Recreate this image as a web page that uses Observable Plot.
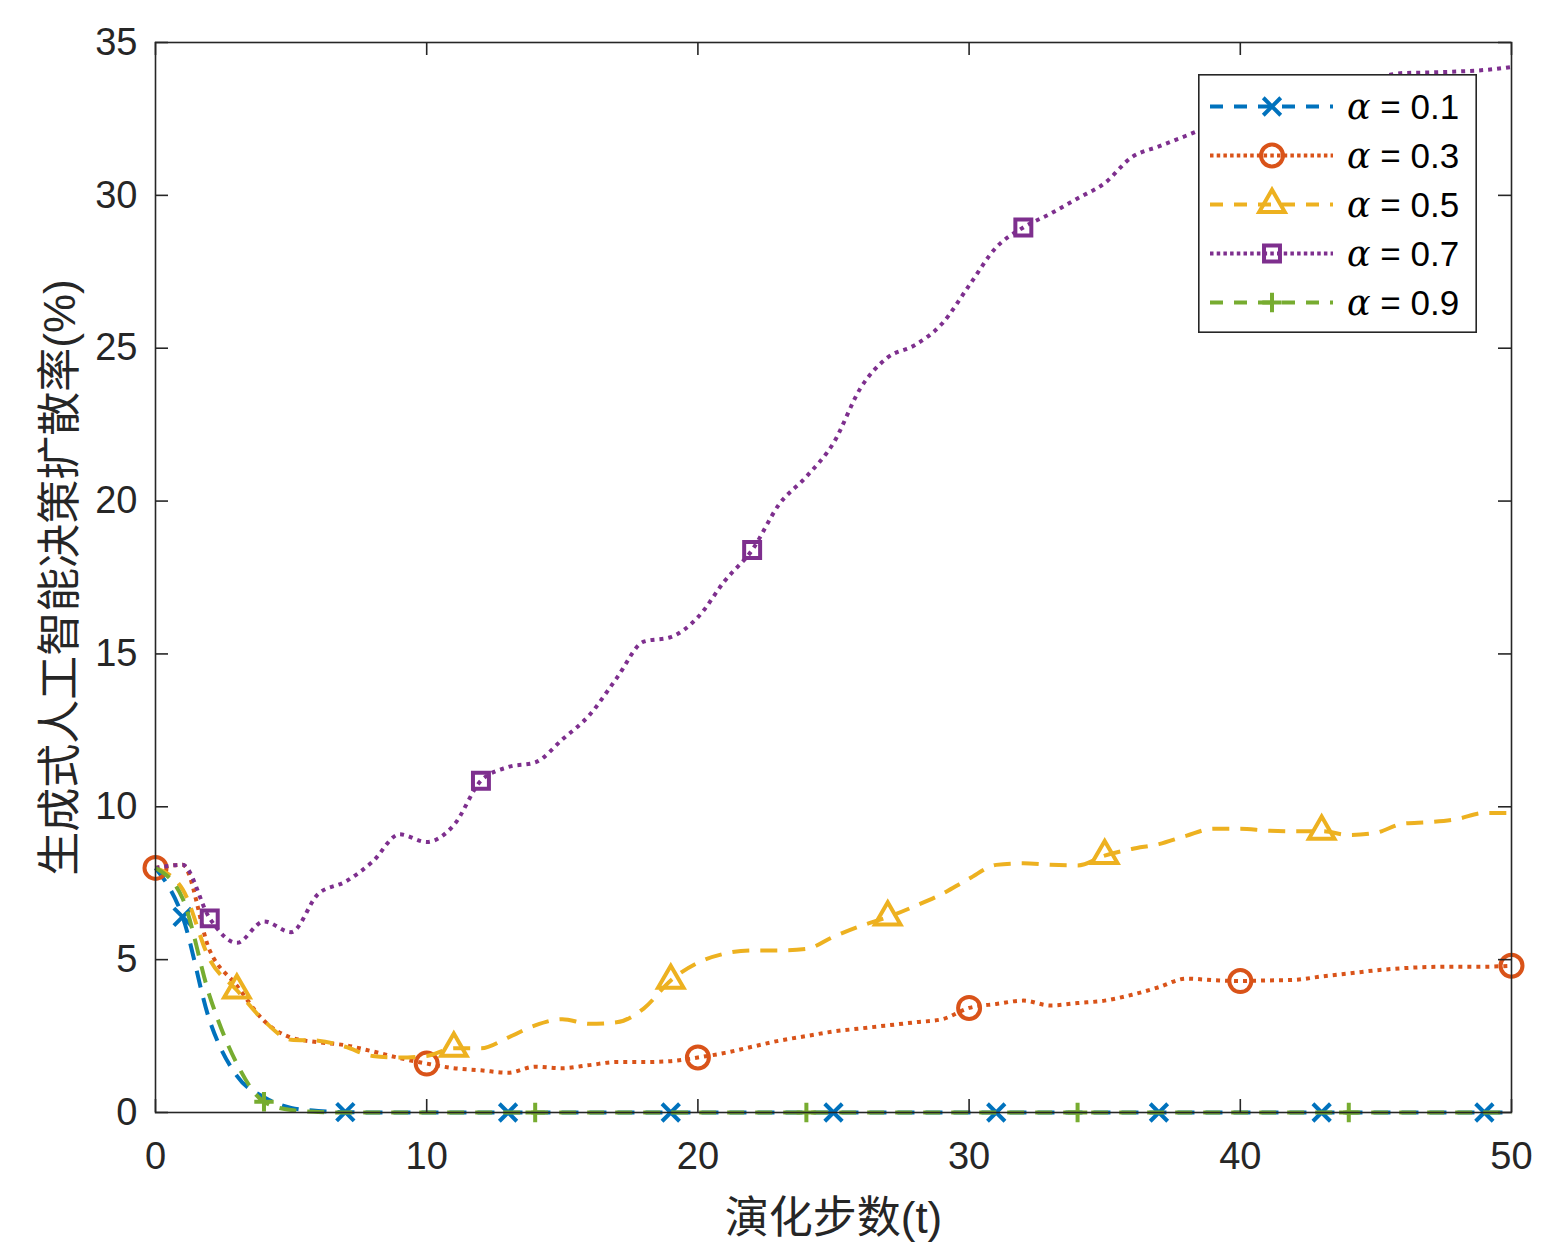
<!DOCTYPE html>
<html><head><meta charset="utf-8">
<script src="https://cdn.jsdelivr.net/npm/d3@7"></script>
<script src="https://cdn.jsdelivr.net/npm/@observablehq/plot@0.6"></script>
<style>
body{margin:0;background:#fff;}
#wrap{position:relative;width:1548px;height:1257px;background:#fff;}
#legend{position:absolute;left:1198px;top:74px;}
</style></head><body><div id="wrap"></div>
<script>
const steps = d3.range(0, 51);
const xTicks = [0, 10, 20, 30, 40, 50];
const yTicks = [0, 5, 10, 15, 20, 25, 30, 35];
const xLabel = "演化步数(t)";
const yLabel = "生成式人工智能决策扩散率(%)";
const seriesLabels = ["0.1", "0.3", "0.5", "0.7", "0.9"];

const alpha01 = [8.0, 6.4, 3.0, 1.2, 0.5, 0.15, 0.05, 0.01, 0, 0,
  0, 0, 0, 0, 0, 0, 0, 0, 0, 0,
  0, 0, 0, 0, 0, 0, 0, 0, 0, 0,
  0, 0, 0, 0, 0, 0, 0, 0, 0, 0,
  0, 0, 0, 0, 0, 0, 0, 0, 0, 0, 0];
const alpha03 = [8.0, 8.1, 5.3, 4.15, 3.0, 2.45, 2.3, 2.2, 2.0, 1.78,
  1.6, 1.45, 1.38, 1.3, 1.5, 1.45, 1.55, 1.65, 1.65, 1.68,
  1.8, 1.95, 2.15, 2.35, 2.5, 2.65, 2.75, 2.85, 2.95, 3.05,
  3.42, 3.55, 3.66, 3.5, 3.58, 3.66, 3.85, 4.1, 4.38, 4.33,
  4.3, 4.32, 4.34, 4.45, 4.55, 4.65, 4.72, 4.76, 4.77, 4.77, 4.8];
const alpha05 = [8.0, 7.3, 5.0, 4.0, 3.0, 2.38, 2.35, 2.15, 1.85, 1.8,
  1.85, 2.1, 2.1, 2.45, 2.85, 3.05, 2.9, 2.95, 3.4, 4.32,
  4.9, 5.2, 5.3, 5.3, 5.35, 5.75, 6.1, 6.39, 6.75, 7.15,
  7.65, 8.1, 8.15, 8.1, 8.08, 8.4, 8.62, 8.78, 9.05, 9.28,
  9.28, 9.22, 9.2, 9.2, 9.08, 9.15, 9.45, 9.5, 9.6, 9.8, 9.8];
const alpha07 = [8.0, 8.1, 6.35, 5.55, 6.25, 5.9, 7.15, 7.55, 8.2, 9.1,
  8.85, 9.4, 10.85, 11.3, 11.45, 12.2, 13.0, 14.2, 15.4, 15.55,
  16.2, 17.4, 18.4, 19.9, 20.8, 21.9, 23.7, 24.7, 25.1, 25.8,
  27.05, 28.3, 28.95, 29.4, 29.9, 30.4, 31.25, 31.6, 31.95, 32.3,
  32.6, 32.9, 33.2, 33.45, 33.65, 33.85, 34.0, 34.02, 34.05, 34.1, 34.2];
const alpha09 = [8.0, 7.0, 3.8, 1.6, 0.35, 0.08, 0.02, 0, 0, 0,
  0, 0, 0, 0, 0, 0, 0, 0, 0, 0,
  0, 0, 0, 0, 0, 0, 0, 0, 0, 0,
  0, 0, 0, 0, 0, 0, 0, 0, 0, 0,
  0, 0, 0, 0, 0, 0, 0, 0, 0, 0, 0];

const markers01 = [1, 7, 13, 19, 25, 31, 37, 43, 49];
const markers03 = [0, 10, 20, 30, 40, 50];
const markers05 = [3, 11, 19, 27, 35, 43];
const markers07 = [2, 12, 22, 32, 42];
const markers09 = [4, 14, 24, 34, 44];

const DASH = "17,11", DOT = "4,5";
const series = [
  {label: seriesLabels[0], values: alpha01, markers: markers01, color: "#0072BD", dash: DASH, symbol: "times", r: 8},
  {label: seriesLabels[1], values: alpha03, markers: markers03, color: "#D95319", dash: DOT, symbol: "circle", r: 11},
  {label: seriesLabels[2], values: alpha05, markers: markers05, color: "#EDB120", dash: DASH, symbol: "triangle", r: 9.5},
  {label: seriesLabels[3], values: alpha07, markers: markers07, color: "#7E2F8E", dash: DOT, symbol: "square", r: 9},
  {label: seriesLabels[4], values: alpha09, markers: markers09, color: "#77AC30", dash: DASH, symbol: "plus", r: 6.3}
];

const W = 1548, H = 1257, ML = 155, MR = 37, MT = 42, MB = 145;
const FW = W - ML - MR, FH = H - MT - MB, TL = 13;
const axisColor = "#262626";

const marks = [];
for (const s of series) {
  marks.push(Plot.line(steps, {x: d => d, y: d => s.values[d], stroke: s.color, strokeWidth: 4,
    strokeDasharray: s.dash, strokeLinecap: "butt", curve: "monotone-x"}));
  marks.push(Plot.dot(s.markers, {x: d => d, y: d => s.values[d], symbol: s.symbol, r: s.r,
    stroke: s.color, strokeWidth: 4, fill: "none"}));
}

const chart = Plot.plot({
  width: W, height: H,
  marginLeft: ML, marginRight: MR, marginTop: MT, marginBottom: MB,
  style: {fontFamily: "'Liberation Sans', Arial, sans-serif", background: "#fff", color: axisColor},
  x: {domain: [0, 50]},
  y: {domain: [0, 35]},
  marks: [
    ...marks,
    Plot.frame({stroke: axisColor, strokeWidth: 1.6}),
    Plot.tickX(xTicks, {x: d => d, insetTop: FH - TL, stroke: axisColor, strokeWidth: 1.6}),
    Plot.tickX(xTicks, {x: d => d, insetBottom: FH - TL, stroke: axisColor, strokeWidth: 1.6}),
    Plot.tickY(yTicks, {y: d => d, insetRight: FW - TL, stroke: axisColor, strokeWidth: 1.6}),
    Plot.tickY(yTicks, {y: d => d, insetLeft: FW - TL, stroke: axisColor, strokeWidth: 1.6}),
    Plot.axisX({ticks: xTicks, tickSize: 0, tickPadding: 30, fontSize: 38, label: null, fill: axisColor}),
    Plot.axisY({ticks: yTicks, tickSize: 0, tickPadding: 18, fontSize: 38, label: null, fill: axisColor}),
    Plot.text([xLabel], {text: d => d, frameAnchor: "bottom", dy: 106, fontSize: 44, fill: axisColor,
      textAnchor: "middle", lineAnchor: "middle",
      fontFamily: "'Liberation Sans','Noto Sans CJK SC',sans-serif"}),
    Plot.text([yLabel], {text: d => d, frameAnchor: "left", dx: -95, rotate: -90, fontSize: 44, fill: axisColor,
      textAnchor: "middle", lineAnchor: "middle",
      fontFamily: "'Liberation Sans','Noto Sans CJK SC',sans-serif"})
  ]
});
document.getElementById("wrap").appendChild(chart);

// Legend
const LW = 279, LH = 259;
const leg = d3.create("svg").attr("id", "legend").attr("width", LW).attr("height", LH);
leg.append("rect").attr("x", 0.8).attr("y", 0.8).attr("width", LW - 1.6).attr("height", LH - 1.6)
  .attr("fill", "#fff").attr("stroke", axisColor).attr("stroke-width", 1.6);
const symMap = {times: d3.symbolTimes, circle: d3.symbolCircle, triangle: d3.symbolTriangle, square: d3.symbolSquare, plus: d3.symbolPlus};
series.forEach((s, i) => {
  const cy = 32.5 + 49 * i;
  leg.append("line").attr("x1", 12).attr("x2", 135).attr("y1", cy).attr("y2", cy)
    .attr("stroke", s.color).attr("stroke-width", 4).attr("stroke-dasharray", s.dash === DASH ? "13,11" : "3.5,3.2");
  leg.append("path").attr("transform", `translate(74,${cy})`)
    .attr("d", d3.symbol(symMap[s.symbol], Math.PI * s.r * s.r)())
    .attr("fill", "none").attr("stroke", s.color).attr("stroke-width", 4);
  const t = leg.append("text").attr("x", 149).attr("y", cy).attr("dy", "0.35em")
    .attr("font-size", 35).attr("fill", "#000").attr("font-family", "'Liberation Sans', Arial, sans-serif");
  t.append("tspan").attr("font-family", "'DejaVu Serif','Liberation Serif',serif").attr("font-style", "italic").text("α");
  t.append("tspan").text(" = " + s.label);
});
document.getElementById("wrap").appendChild(leg.node());
</script></body></html>
